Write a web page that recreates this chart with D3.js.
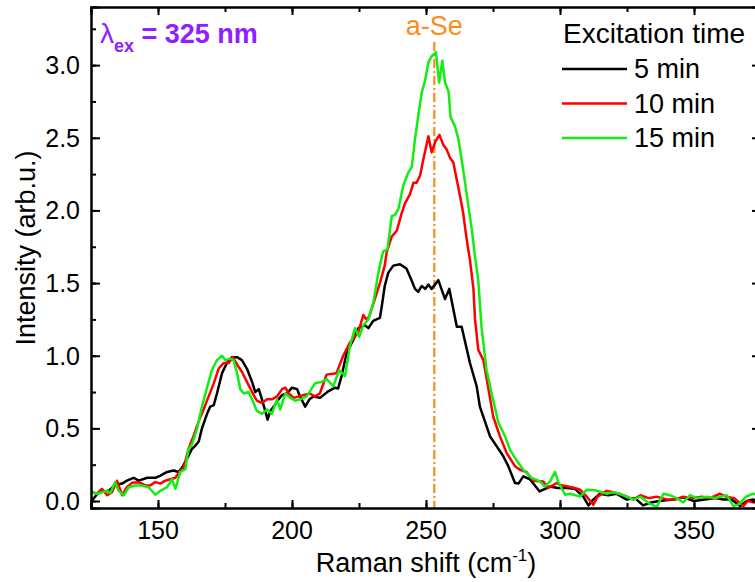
<!DOCTYPE html>
<html lang="en">
<head>
<meta charset="utf-8">
<title>Raman spectra, excitation time</title>
<style type="text/css">
  body { margin: 0; background: #fff; }
  text { font-family: Arial, "Liberation Sans", sans-serif; }
</style>
</head>
<body>
<script src="https://d3js.org/d3.v7.min.js"></script>
<script type="text/javascript">
// chart size
var w = 755, h = 582;
var margin = {left: 91, top: 7, right: -6, bottom: 74};

// data
var shift5 = [125.2,127.9,131.6,134,136.6,138.4,140.9,142.8,146,149,150.9,153.4,155.8,157.7,159,160.8,162.7,163.9,165.2,166.4,168.3,169.5,170.8,172,173.9,175.7,177.6,179.5,181.3,183.2,185.1,186.3,187.6,188.8,190,190.9,191.9,193.2,195,196.3,198.1,200,201.9,203,204.9,206.5,208,210.5,213.5,216,217.2,218.5,220.4,222.9,224.8,227.2,228.5,230.3,232.8,233.5,234.6,235.9,237.8,240.3,242.7,244.6,245.9,247.1,248.4,249.7,250.9,252.1,254.6,257.1,258.7,261.5,263.3,266.4,268.9,270.1,273.9,278.8,280.7,283.2,284.5,286.3,288.8,292.4,296.3,299,302.5,305.5,308.7,310.6,312.4,314.9,318,321,324.9,328,331,334,337,342.2,346,350,354,358,361,364,367.2,369.7,372,375];
var int5 = [0.0,0.06,0.07,0.11,0.12,0.14,0.16,0.14,0.16,0.16,0.175,0.2,0.21,0.2,0.23,0.29,0.36,0.38,0.41,0.5,0.6,0.65,0.66,0.74,0.88,0.95,0.99,0.99,0.97,0.91,0.82,0.75,0.77,0.7,0.62,0.56,0.62,0.65,0.7,0.73,0.74,0.78,0.77,0.72,0.65,0.7,0.72,0.71,0.755,0.78,0.775,0.86,1.02,1.11,1.19,1.21,1.19,1.24,1.26,1.34,1.48,1.57,1.62,1.63,1.6,1.52,1.46,1.44,1.48,1.46,1.49,1.46,1.52,1.39,1.46,1.2,1.2,0.95,0.79,0.65,0.445,0.31,0.24,0.124,0.12,0.17,0.15,0.066,0.1,0.09,0.09,0.085,0.03,-0.03,0.01,0.05,0.04,0.05,0.01,0.02,-0.03,-0.01,0.0,0.01,0.025,0.0,0.01,0.02,0.01,0.01,-0.035,0.0,0.01,0.0];

var shift10 = [125.4,127.2,129.1,131,132.8,134.7,136.6,138.4,140.3,142.8,145.3,147,149,150.9,152.7,154.6,156.5,158,159.6,161.4,163.3,165.2,167,168.9,170.8,172.6,174.5,176.4,177.9,179.5,181.3,183.2,185.1,186.9,188.8,190.7,192.5,194.4,196.3,197.5,198.8,200.6,202.5,204.5,206.7,208.5,210.4,212.9,216.6,219.1,221.6,224.7,226.6,227.8,228.8,230.9,232.8,234.6,235.3,237.2,239.1,240.9,242.2,244,245.3,246.5,247.8,249,250.9,252.1,253.4,255,256.5,257.7,259,260.2,261.5,262.7,263.9,264.6,265.5,266.4,267.7,268.3,269.5,271.4,273.3,275.1,277.6,280.1,283.2,285.1,287.5,290,293.8,295.6,298.8,300,303,305.5,307.5,310,312.4,314,317.4,320,322,325,327.4,330,333,336,339.8,343,346,349,353,356,359.7,362,365,368.4,370,372.5,375];
var int10 = [0.061,0.05,0.084,0.04,0.06,0.14,0.04,0.095,0.125,0.13,0.107,0.107,0.13,0.12,0.14,0.15,0.16,0.2,0.23,0.36,0.45,0.55,0.63,0.72,0.81,0.91,0.95,0.95,0.99,0.94,0.89,0.82,0.75,0.69,0.675,0.7,0.7,0.72,0.77,0.78,0.74,0.71,0.72,0.73,0.74,0.72,0.74,0.87,0.88,1.0,1.09,1.16,1.28,1.25,1.27,1.39,1.5,1.62,1.71,1.82,1.86,1.98,2.05,2.11,2.19,2.19,2.24,2.35,2.51,2.4,2.47,2.52,2.45,2.42,2.36,2.33,2.21,2.1,1.98,1.88,1.76,1.66,1.46,1.25,1.04,0.97,0.77,0.58,0.445,0.33,0.24,0.215,0.2,0.14,0.135,0.09,0.124,0.11,0.1,0.09,0.078,0.03,-0.026,0.03,0.07,0.06,0.05,0.03,0.01,0.04,0.02,0.03,0.01,0.01,0.03,0.02,0.03,0.02,0.05,0.03,0.02,-0.035,0.0,-0.01,0.04];

var shift15 = [125.4,127.2,129.1,131,132.2,134,135.3,137.2,139.1,141.5,144,146.5,149,150.9,153.4,155.2,156.5,158.3,160.2,161.4,162.7,164.6,166.4,168.3,170.1,172,173.9,175.1,177,178.2,179.5,180.7,182,183.8,185.1,186.9,188.8,190.7,192.5,194.4,195.6,197.5,199.4,201.2,203,205.5,208.6,211.1,212.9,215.4,217.6,219.8,221.6,223.5,225.1,226.6,228.5,230.3,232.2,233.5,234.1,235.6,237.2,238.4,239.7,241.5,243.4,244.7,245.9,247.1,248.4,249.6,250.9,252.1,253.7,254.9,256.1,257.1,258.4,259.2,260.8,262.1,263.3,264.6,265.8,267.1,268.3,269.5,270.7,272.6,274.5,277,279.5,281.4,283.8,286.3,289.4,292.5,294.3,296.3,298.1,299.4,301.9,303.7,307.5,310,313,317.4,320,323,327.4,330,333.6,336.1,338.6,341,343.5,346,348.5,351,355,358,362.2,364.7,367,369.4,372,375];
var int15 = [0.061,0.05,0.06,0.07,0.055,0.13,0.07,0.04,0.095,0.107,0.107,0.095,0.043,0.07,0.095,0.15,0.084,0.2,0.22,0.36,0.39,0.5,0.65,0.78,0.9,0.97,1.0,0.97,0.98,0.97,0.88,0.77,0.74,0.75,0.7,0.62,0.6,0.63,0.6,0.7,0.63,0.74,0.71,0.69,0.7,0.72,0.81,0.82,0.84,0.79,0.9,0.86,1.065,1.19,1.13,1.21,1.25,1.36,1.57,1.68,1.72,1.73,1.96,1.97,2.01,2.17,2.26,2.3,2.49,2.65,2.81,2.89,3.02,3.06,3.09,2.88,3.03,2.88,2.82,2.64,2.58,2.49,2.35,2.19,2.03,1.87,1.68,1.52,1.2,0.9,0.74,0.54,0.445,0.35,0.28,0.215,0.16,0.135,0.1,0.135,0.2,0.13,0.043,0.05,0.03,0.078,0.075,0.05,0.06,0.045,0.01,0.03,-0.02,-0.04,0.05,0.04,0.02,-0.01,0.04,0.02,0.03,0.02,0.04,-0.035,-0.02,0.03,0.05,0.04];

var seriesNames = ["5 min", "10 min", "15 min"];
var seriesColors = ["#000000", "#ff0000", "#11ee11"];
var xTicks = [150, 200, 250, 300, 350];
var yTicks = [0.0, 0.5, 1.0, 1.5, 2.0, 2.5, 3.0];
var peakShift = 253.1;

var series = [
  {name: seriesNames[0], color: seriesColors[0], pts: d3.zip(shift5, int5)},
  {name: seriesNames[1], color: seriesColors[1], pts: d3.zip(shift10, int10)},
  {name: seriesNames[2], color: seriesColors[2], pts: d3.zip(shift15, int15)}
];

//Create scale functions
var xScale = d3.scaleLinear().domain([125, 375]).range([margin.left, w - margin.right]);
var yScale = d3.scaleLinear().domain([-0.048, 3.4]).range([h - margin.bottom, margin.top]);

var svg = d3.select("body").append("svg").attr("width", w).attr("height", h);

var x0 = xScale.range()[0], x1 = xScale.range()[1];
var y0 = yScale.range()[0], y1 = yScale.range()[1];

// clip lines to the frame
svg.append("clipPath").attr("id", "plot")
   .append("rect").attr("x", x0).attr("y", y1).attr("width", x1 - x0).attr("height", y0 - y1);

// a-Se reference line
svg.append("line")
   .attr("x1", xScale(peakShift)).attr("x2", xScale(peakShift))
   .attr("y1", 42).attr("y2", y0)
   .attr("stroke", "#ff8c1a").attr("stroke-width", 2.2)
   .attr("stroke-dasharray", "9,3,2,3");

svg.append("text")
   .attr("x", xScale(peakShift)).attr("y", 35)
   .attr("text-anchor", "middle")
   .attr("font-size", "27px")
   .attr("fill", "#ff8c1a")
   .text("a-Se");

// spectra
var line = d3.line()
   .x(function(d) { return xScale(d[0]); })
   .y(function(d) { return yScale(d[1]); });

svg.append("g").attr("clip-path", "url(#plot)")
   .selectAll("path")
   .data(series)
   .enter()
   .append("path")
   .attr("d", function(d) { return line(d.pts); })
   .attr("fill", "none")
   .attr("stroke", function(d) { return d.color; })
   .attr("stroke-width", 2.5)
   .attr("stroke-linejoin", "round");

// axes, ticks point inward
var xMinor = d3.range(125, 376, 25);
var yMinor = d3.range(0, 3.3, 0.25);

svg.append("g").attr("transform", "translate(0," + y0 + ")")
   .call(d3.axisTop(xScale).tickValues(xMinor).tickSize(5).tickFormat(""));
svg.append("g").attr("transform", "translate(0," + y0 + ")")
   .call(d3.axisTop(xScale).tickValues(xTicks).tickSize(8).tickFormat(""));
svg.append("g").attr("transform", "translate(0," + y1 + ")")
   .call(d3.axisBottom(xScale).tickValues(xMinor).tickSize(5).tickFormat(""));
svg.append("g").attr("transform", "translate(0," + y1 + ")")
   .call(d3.axisBottom(xScale).tickValues(xTicks).tickSize(8).tickFormat(""));
svg.append("g").attr("transform", "translate(" + x0 + ",0)")
   .call(d3.axisRight(yScale).tickValues(yMinor).tickSize(5).tickFormat(""));
svg.append("g").attr("transform", "translate(" + x0 + ",0)")
   .call(d3.axisRight(yScale).tickValues(yTicks).tickSize(9).tickFormat(""));
svg.append("g").attr("transform", "translate(" + x1 + ",0)")
   .call(d3.axisLeft(yScale).tickValues(yMinor).tickSize(5).tickFormat(""));
svg.append("g").attr("transform", "translate(" + x1 + ",0)")
   .call(d3.axisLeft(yScale).tickValues(yTicks).tickSize(9).tickFormat(""));

svg.selectAll(".domain").attr("stroke", "#000").attr("stroke-width", 2);
svg.selectAll(".tick line").attr("stroke", "#000").attr("stroke-width", 2);

// tick labels
svg.selectAll("text.xlab")
   .data(xTicks)
   .enter()
   .append("text")
   .attr("class", "xlab")
   .attr("x", function(d) { return xScale(d); })
   .attr("y", 539)
   .attr("text-anchor", "middle")
   .attr("font-size", "25px")
   .text(function(d) { return d; });

svg.selectAll("text.ylab")
   .data(yTicks)
   .enter()
   .append("text")
   .attr("class", "ylab")
   .attr("x", 80)
   .attr("y", function(d) { return yScale(d) + 9; })
   .attr("text-anchor", "end")
   .attr("font-size", "25px")
   .text(function(d) { return d.toFixed(1); });

// axis titles
var xt = svg.append("text")
   .attr("x", (x0 + x1) / 2).attr("y", 572)
   .attr("text-anchor", "middle")
   .attr("font-size", "27px");
xt.append("tspan").text("Raman shift (cm");
xt.append("tspan").attr("font-size", "17px").attr("dy", -11).text("-1");
xt.append("tspan").attr("dy", 11).text(")");

svg.append("text")
   .attr("transform", "translate(35,248) rotate(-90)")
   .attr("text-anchor", "middle")
   .attr("font-size", "27px")
   .text("Intensity (arb.u.)");

// excitation wavelength
var lt = svg.append("text")
   .attr("x", 100).attr("y", 43)
   .attr("fill", "#9020ff")
   .attr("font-size", "27px")
   .attr("font-weight", "bold");
lt.append("tspan").attr("font-weight", "normal").attr("font-size", "28px").text("\u03bb");
lt.append("tspan").attr("font-size", "18px").attr("dy", 9).text("ex");
lt.append("tspan").attr("dy", -9).text(" = 325 nm");

// legend
svg.append("text")
   .attr("x", 563).attr("y", 43)
   .attr("font-size", "28px")
   .text("Excitation time");

var legend = svg.selectAll("g.leg")
   .data(series)
   .enter()
   .append("g")
   .attr("class", "leg")
   .attr("transform", function(d, i) { return "translate(562," + (69 + i * 34.5) + ")"; });

legend.append("line")
   .attr("x1", 0).attr("x2", 65)
   .attr("stroke", function(d) { return d.color; })
   .attr("stroke-width", 2.5);

legend.append("text")
   .attr("x", 72).attr("y", 9)
   .attr("font-size", "27px")
   .text(function(d) { return d.name; });
</script>
</body>
</html>
